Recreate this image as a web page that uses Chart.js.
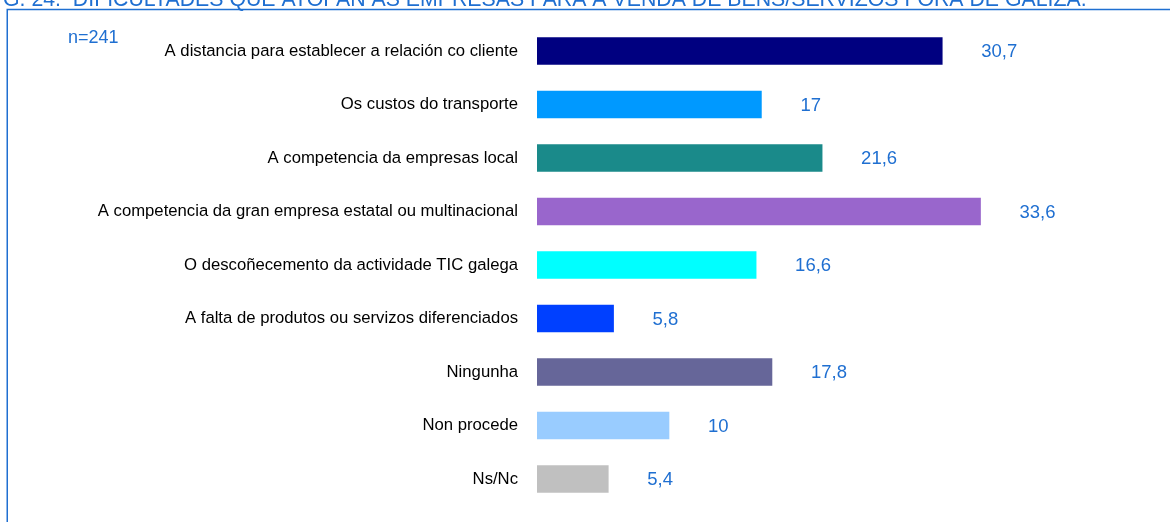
<!DOCTYPE html>
<html>
<head>
<meta charset="utf-8">
<script src="https://cdn.jsdelivr.net/npm/chart.js@4/dist/chart.umd.min.js"></script>
<style>
  html, body { margin: 0; padding: 0; background: #ffffff; }
  #wrap { width: 1170px; height: 522px; position: relative; }
</style>
</head>
<body>
<div id="wrap"><canvas id="c" width="1170" height="522"></canvas></div>
<script>
const titleText = "G. 24.  DIFICULTADES QUE ATOPAN AS EMPRESAS PARA A VENDA DE BENS/SERVIZOS FORA DE GALIZA.";
const sampleNote = "n=241";
const categories = [
  "A distancia para establecer a relación co cliente",
  "Os custos do transporte",
  "A competencia da empresas local",
  "A competencia da gran empresa estatal ou multinacional",
  "O descoñecemento da actividade TIC galega",
  "A falta de produtos ou servizos diferenciados",
  "Ningunha",
  "Non procede",
  "Ns/Nc"
];
const values = [30.7, 17, 21.6, 33.6, 16.6, 5.8, 17.8, 10, 5.4];
const valueLabels = ["30,7", "17", "21,6", "33,6", "16,6", "5,8", "17,8", "10", "5,4"];
const barColors = ["#000080", "#0099FF", "#1A8A8A", "#9966CC", "#00FFFF", "#0040FF", "#666699", "#99CCFF", "#C0C0C0"];

const BLUE = "#1F6FD1";
const FONT = "'Liberation Sans', Arial, sans-serif";

const decor = {
  id: 'decor',
  beforeDraw(chart) {
    const ctx = chart.ctx;
    ctx.save();
    ctx.fillStyle = '#ffffff';
    ctx.fillRect(0, 0, chart.width, chart.height);
    // frame
    ctx.strokeStyle = BLUE;
    ctx.lineWidth = 1.5;
    ctx.beginPath();
    ctx.moveTo(7.25, chart.height + 2);
    ctx.lineTo(7.25, 9.5);
    ctx.lineTo(chart.width + 2, 9.5);
    ctx.stroke();
    // title (clipped at top)
    ctx.fillStyle = BLUE;
    ctx.font = "21.3px " + FONT;
    ctx.textAlign = 'left';
    ctx.textBaseline = 'alphabetic';
    ctx.fillText(titleText, 3, 6);
    // n note
    ctx.font = "18px " + FONT;
    ctx.fillText(sampleNote, 68, 43);
    ctx.restore();
  },
  afterDatasetsDraw(chart) {
    const ctx = chart.ctx;
    const meta = chart.getDatasetMeta(0);
    ctx.save();
    ctx.fillStyle = BLUE;
    ctx.font = "18.5px " + FONT;
    ctx.textAlign = 'left';
    ctx.textBaseline = 'middle';
    meta.data.forEach((bar, i) => {
      ctx.fillText(valueLabels[i], bar.x + 39, bar.y + 1);
    });
    ctx.restore();
  }
};

new Chart(document.getElementById('c'), {
  type: 'bar',
  data: {
    labels: categories,
    datasets: [{
      data: values,
      backgroundColor: barColors,
      borderWidth: 0,
      barThickness: 27
    }]
  },
  options: {
    indexAxis: 'y',
    responsive: false,
    animation: false,
    layout: { padding: { left: 0, right: 39, top: 24.25, bottom: 16.25 } },
    plugins: {
      legend: { display: false },
      tooltip: { enabled: false },
      title: { display: false }
    },
    scales: {
      x: {
        display: false,
        min: 0,
        max: 45
      },
      y: {
        grid: { display: false, drawTicks: false },
        border: { display: false },
        afterFit(scale) {
          scale.width = 537;
          scale.paddingTop = 0;
          scale.paddingBottom = 0;
        },
        ticks: {
          padding: 19,
          color: '#000000',
          font: { family: FONT, size: 16.7 }
        }
      }
    }
  },
  plugins: [decor]
});
</script>
</body>
</html>
